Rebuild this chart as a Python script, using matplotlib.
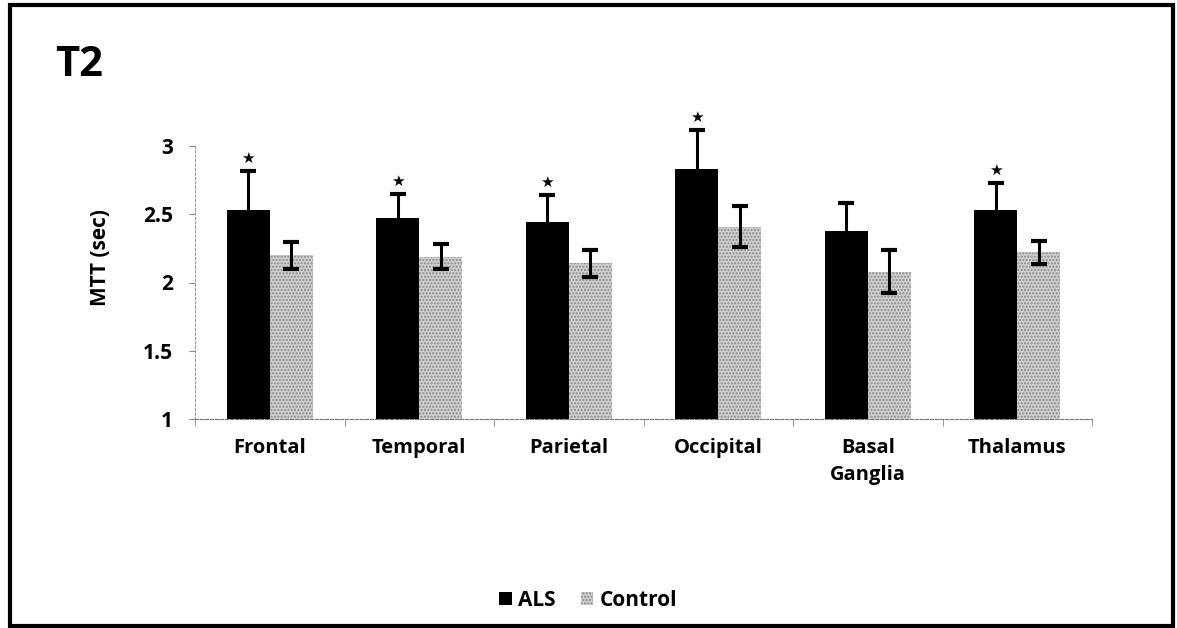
import numpy as np
import matplotlib
matplotlib.use("Agg")
import matplotlib.pyplot as plt
from matplotlib.patches import Rectangle

plt.rcParams['font.family'] = ['Open Sans', 'DejaVu Sans']

# values
regions = ['Frontal', 'Temporal', 'Parietal', 'Occipital', 'Basal\nGanglia', 'Thalamus']
als = [2.53, 2.47, 2.44, 2.83, 2.38, 2.53]
als_err = [0.29, 0.18, 0.20, 0.29, 0.20, 0.20]
ctrl = [2.20, 2.19, 2.14, 2.41, 2.08, 2.22]
ctrl_err = [0.10, 0.09, 0.10, 0.15, 0.16, 0.085]
signif = [True, True, True, True, False, True]
yticks = [1, 1.5, 2, 2.5, 3]

W, H = 1177, 628
fig = plt.figure(figsize=(W / 100, H / 100), dpi=100)
ax = fig.add_axes([195 / W, 1 - 419 / H, (1092 - 195) / W, (419 - 146) / H])

x = np.arange(len(regions))
bw = 0.288

ax.bar(x - bw / 2, np.array(als) - 1, bw, bottom=1, color='black', label='ALS', zorder=2)
ax.bar(x + bw / 2, np.array(ctrl) - 1, bw, bottom=1, color='#cfcfcf', hatch='.....',
       edgecolor='#8a8a8a', linewidth=0, label='Control', zorder=2)

eb1 = ax.errorbar(x - bw / 2, als, yerr=als_err, fmt='none', ecolor='black',
                  elinewidth=2.2, capsize=6, capthick=3, zorder=3)
eb2 = ax.errorbar(x + bw / 2, ctrl, yerr=ctrl_err, fmt='none', ecolor='black',
                  elinewidth=2.2, capsize=6, capthick=3, zorder=3)
for eb in (eb1, eb2):
    for art in eb.lines[1] + eb.lines[2]:
        art.set_clip_on(False)

# significance stars
for i in range(len(regions)):
    if signif[i]:
        ax.annotate('★', (x[i] - bw / 2, als[i] + als_err[i]), xytext=(0, 9),
                    textcoords='offset points', ha='center', va='center',
                    fontsize=11, family='DejaVu Sans', annotation_clip=False)

ax.set_ylim(1, 3)
ax.set_xlim(-0.5, len(regions) - 0.5)
ax.set_yticks(yticks)
ax.set_yticklabels(['1', '1.5', '2', '2.5', '3'], fontsize=15, fontweight='bold')
ax.set_xticks(x)
ax.set_xticklabels(regions, fontsize=14.5, fontweight='bold', linespacing=1.45)
ax.tick_params(axis='x', length=0, pad=14)
ax.set_xticks(np.arange(-0.5, len(regions), 1), minor=True)
ax.tick_params(axis='x', which='minor', length=5, color='#888888', direction='out')
ax.tick_params(axis='y', length=4, color='#888888', pad=12)

for s in ['top', 'right']:
    ax.spines[s].set_visible(False)
ax.spines['left'].set_color('#999999')
ax.spines['left'].set_linestyle((0, (2, 2)))
ax.spines['bottom'].set_color('#777777')
ax.spines['bottom'].set_linestyle((0, (3, 1.5)))

fig.text(100 / W, 1 - 257 / H, 'MTT (sec)', rotation=90, ha='center', va='center',
         fontsize=15, fontweight='bold')
fig.text(55 / W, 1 - 66 / H, 'T2', ha='left', va='center', fontsize=30, fontweight='bold')

leg = fig.legend(loc='center', bbox_to_anchor=(588 / W, 1 - 600 / H), ncol=2, frameon=False,
                 prop={'size': 15, 'weight': 'bold'}, handlelength=0.6, handleheight=0.6,
                 handletextpad=0.3, columnspacing=1.2)

# outer frame
fig.patches.append(Rectangle((10 / W, 2 / H), (1173 - 10) / W, (623 - 2) / H,
                             transform=fig.transFigure, fill=False, edgecolor='black',
                             linewidth=3))

fig.savefig('out.png', dpi=100)
